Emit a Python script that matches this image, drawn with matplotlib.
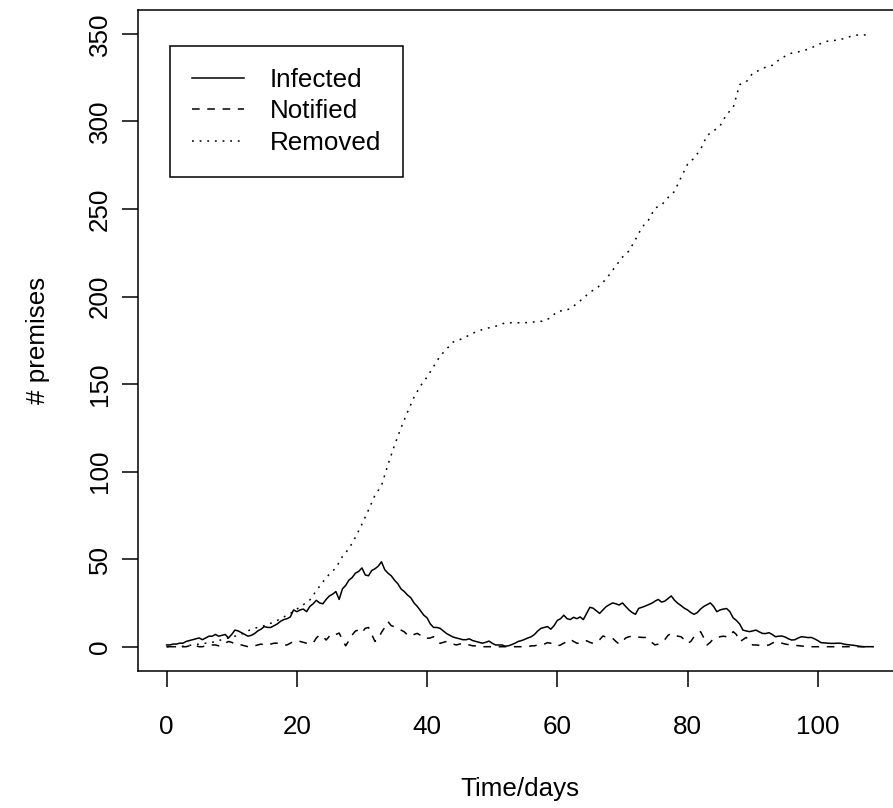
import numpy as np
import matplotlib.pyplot as plt

plt.rcParams['font.family'] = ['Liberation Sans', 'DejaVu Sans']

# infected / notified read every half day, removed every day
infected = [
    1, 1, 1.5, 1.5, 2, 2, 3, 3.5, 4, 4.5, 5, 4, 5, 6, 6, 7, 6, 6.5, 7, 5,
    7, 9.5, 9, 8, 7, 6, 6.5, 7.5, 9, 10, 11.5, 11, 11, 12, 13, 14.5, 15.5, 16, 17, 21,
    20, 21, 21.5, 20, 23, 24.5, 26.5, 25, 24.5, 27, 29, 30, 31.5, 27, 33, 35, 38, 39.5, 42, 43,
    45, 41, 40.5, 43.5, 44.5, 46, 48.5, 44, 42, 40.5, 38, 36, 33, 31.5, 29.5, 28, 25, 23, 20.5, 18,
    16.5, 13, 11, 11, 10.5, 9, 7.5, 6.5, 5.5, 5, 4.5, 4, 4, 4.5, 3.5, 3, 2.5, 2, 2.5, 3.2,
    2, 1, 1, 1, 0.3, 0.5, 1.2, 2, 3, 3.5, 4.2, 5, 5.7, 7, 9, 10.5, 11, 11.5, 10, 12,
    15, 16, 18, 16, 15.5, 16.8, 16, 17, 15.5, 19, 22.5, 22, 20.5, 19, 21, 22.9, 24, 25, 24.5, 23.8,
    25, 23, 21, 19.5, 18.5, 21.9, 22.5, 23.2, 24, 24.8, 26, 27, 25.5, 26, 27.5, 29, 26.5, 24.8, 23.5, 22,
    21, 19.5, 18.5, 19.5, 21.5, 23, 24, 25, 23, 20, 21, 21.5, 21.8, 20, 16.5, 15, 13, 9.5, 9, 8.6,
    9, 9.5, 8.5, 7.6, 7.5, 8, 7, 5.7, 6, 6.1, 5.5, 4.5, 3.8, 4, 5, 5.7, 5.5, 5.2, 5.3, 4.5,
    3.5, 2.3, 2.2, 2, 1.9, 1.9, 2, 2, 1.5, 1.2, 1, 0.8, 0.5, 0.2, 0, 0, 0, 0,
]

notified = [
    0, 0, 0, 0, 0, 0, 0, 0.5, 1, 0.5, 0, 0, 0.5, 1, 1, 1, 0.5, 1, 2, 3,
    2.5, 1.5, 1, 1, 0.5, 0, 0, 0.5, 1, 1.5, 1, 1, 1.5, 2, 2, 1.5, 1, 1, 2, 3,
    3.4, 3, 2.5, 2, 1.9, 2, 5, 6.7, 6, 3.8, 6, 7.6, 7, 7.8, 4, 0.5, 3.5, 6.7, 9, 9.5,
    8, 10.5, 11, 7, 3, 4.5, 8.2, 11, 14.3, 12, 11.4, 10.5, 9.5, 8.5, 6.7, 6, 7, 7.6, 6.5, 4.8,
    4.8, 5, 5.7, 4, 1.9, 2.5, 3, 2.5, 1.5, 1, 1.5, 1.9, 1.5, 1, 0.5, 0.5, 0, 0, 0, 0,
    0, 0, 0, 0, 0, 0, 0, 0, 0, 0, 0, 0, 0.5, 0.5, 1, 1, 1.5, 2.3, 2, 1,
    0.4, 1, 2, 3, 4.2, 3, 2, 1.9, 2.5, 3.4, 2.5, 1.9, 2.5, 4, 6.1, 5.5, 5, 4.8, 3, 1.5,
    3, 5, 5.7, 6, 6.1, 5.5, 5.3, 5.3, 4, 2.5, 1, 1.5, 2.9, 4, 6.5, 7.6, 7, 6, 5.7, 4,
    1.9, 3, 5.7, 7, 8.6, 5, 1, 2.5, 4.8, 5, 5.7, 6, 5.7, 6, 8.6, 7, 2.9, 4, 5.3, 3.5,
    1, 1, 0.8, 0.6, 0.6, 1, 2, 2.9, 2.5, 2, 1.5, 1.2, 1, 0.8, 0.6, 0.4, 0.2, 0, 0, 0,
    0, 0, 0, 0, 0, 0, 0, 0, 0, 0, 0, 0, 0, 0, 0, 0, 0, 0,
]

removed = [
    0, 0, 0, 0.5, 1, 1.5, 2, 2.5, 3.5, 4.5, 5.5, 6.5, 8, 10, 11, 12, 13.4, 15, 17, 19,
    21.5, 24, 26.7, 32, 37, 41.5, 45, 51.5, 56, 62.5, 70, 78, 86.5, 92, 104, 115, 125, 134, 142.5, 149,
    154, 160, 166, 170, 174, 175.3, 177, 179, 180.5, 181.7, 182.5, 183.5, 185, 185, 185, 185, 185.3, 185.7, 186, 188,
    191.5, 192, 193, 196, 199, 202.5, 204.5, 208, 212.5, 217.5, 222.5, 226, 232.5, 239.5, 243.6, 250.5, 252.2, 256.5, 260, 268,
    275.5, 279, 284, 292, 294.5, 297.5, 304, 307.8, 321, 322.5, 327.5, 329.2, 331, 332, 335, 337.3, 339, 339.7, 340.6, 342,
    343.7, 345.4, 346.2, 346.3, 347.3, 348.5, 349.3, 349.3, 349.8,
]

t_half = np.arange(len(infected)) * 0.5
t_day = np.arange(len(removed))

xticks = [0, 20, 40, 60, 80, 100]
yticks = [0, 50, 100, 150, 200, 250, 300, 350]

FS = 18.7
LW = 1.1

fig = plt.figure(figsize=(8.93, 8.08), dpi=100)
# plot region runs a few pixels past the right edge of the picture, as in the original
ax = fig.add_axes([0.1549, 0.1693, 0.8545, 0.8187])

ax.plot(t_half, infected, color='black', lw=LW, label='Infected')
ax.plot(t_half, notified, color='black', lw=LW, linestyle=(0, (5, 5)), label='Notified')
ax.plot(t_day, removed, color='black', lw=LW, linestyle=(0, (1.2, 3.8)), label='Removed')

ax.margins(x=0.04, y=0.04)
ax.set_xticks(xticks)
ax.set_yticks(yticks)
ax.tick_params(direction='out', length=11.2, width=LW, labelsize=FS, colors='black')
ax.tick_params(axis='x', pad=20)
ax.tick_params(axis='y', pad=11.3)
for lab in ax.get_yticklabels():
    lab.set_rotation(90)
    lab.set_rotation_mode('anchor')
    lab.set_ha('center')
    lab.set_va('baseline')
for sp in ax.spines.values():
    sp.set_linewidth(LW)

fig.text(0.5822, 0.01485, 'Time/days', fontsize=FS, ha='center', va='baseline')
fig.text(0.05, 0.5786, '# premises', fontsize=FS, rotation=90, rotation_mode='anchor',
         ha='center', va='baseline')

leg = ax.legend(loc='upper left', bbox_to_anchor=(0.0415, 0.9451), borderaxespad=0,
                fontsize=FS, handlelength=2.0, handletextpad=0.99, borderpad=0.84,
                labelspacing=0.29, fancybox=False, framealpha=1, edgecolor='black')
leg.get_frame().set_linewidth(LW)

fig.savefig('out.png', dpi=100)
